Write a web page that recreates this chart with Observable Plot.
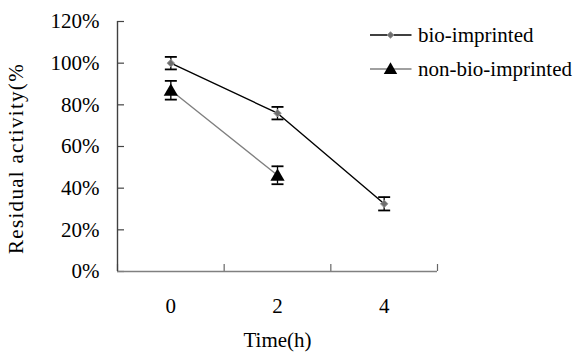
<!DOCTYPE html>
<html>
<head>
<meta charset="utf-8">
<script src="https://cdn.jsdelivr.net/npm/d3@7"></script>
<script src="https://cdn.jsdelivr.net/npm/@observablehq/plot@0.6"></script>
<style>
  html, body { margin: 0; padding: 0; background: #fff; }
  #wrap { position: relative; width: 576px; height: 352px; overflow: hidden; }
  #legend { position: absolute; left: 365px; top: 18px; }
  svg text { font-family: "Liberation Serif", "Times New Roman", serif; }
</style>
</head>
<body>
<div id="wrap"><div id="chart"></div><div id="legend"></div></div>
<script>
const times = [0, 2, 4];
const bioValues = [100, 76, 32.5];
const bioErrors = [3, 3, 3.2];
const nonBioTimes = [0, 2];
const nonBioValues = [87, 46.2];
const nonBioErrors = [4.5, 4.3];
const yTicks = [0, 20, 40, 60, 80, 100, 120];
const xTicks = [0, 2, 4];
const xBoundaryTicks = [-1, 1, 3, 5];
const seriesNames = ["bio-imprinted", "non-bio-imprinted"];

const bio = times.map((t, i) => ({t, v: bioValues[i], e: bioErrors[i]}));
const nonBio = nonBioTimes.map((t, i) => ({t, v: nonBioValues[i], e: nonBioErrors[i]}));

const cap = {draw(ctx) { ctx.moveTo(-6, 0); ctx.lineTo(6, 0); }};
const font = "'Liberation Serif', 'Times New Roman', serif";

const errMarks = (data) => [
  Plot.ruleX(data, {x: "t", y1: d => d.v - d.e, y2: d => d.v + d.e, stroke: "#000", strokeWidth: 1.3}),
  Plot.dot(data, {x: "t", y: d => d.v + d.e, symbol: cap, stroke: "#000", strokeWidth: 1.8, r: 3}),
  Plot.dot(data, {x: "t", y: d => d.v - d.e, symbol: cap, stroke: "#000", strokeWidth: 1.8, r: 3})
];

const chart = Plot.plot({
  width: 576,
  height: 352,
  marginLeft: 117,
  marginRight: 139,
  marginTop: 21,
  marginBottom: 81,
  style: {fontFamily: font, fontSize: "21px", color: "#000", background: "#fff"},
  x: {domain: [-1, 5]},
  y: {domain: [0, 120]},
  marks: [
    Plot.axisY({ticks: yTicks, tickSize: 0, tickPadding: 18, tickFormat: d => d + "%", fontSize: 21,
      label: "Residual activity(%", labelAnchor: "center", labelOffset: 109, labelArrow: "none"}),
    Plot.axisY({ticks: yTicks, tickSize: -7, text: null, label: null, stroke: "#444", strokeWidth: 1.2}),
    Plot.axisX({ticks: xTicks, tickSize: 0, tickPadding: 27, tickFormat: d => String(d), fontSize: 21,
      label: "Time(h)", labelAnchor: "center", labelOffset: 75, labelArrow: "none"}),
    Plot.axisX({ticks: xBoundaryTicks, tickSize: -7, text: null, label: null, stroke: "#666", strokeWidth: 1.2}),
    Plot.ruleY([0], {stroke: "#808080", strokeWidth: 1.6}),
    Plot.ruleX([-1], {stroke: "#404040", strokeWidth: 1.4}),
    Plot.line(nonBio, {x: "t", y: "v", stroke: "#808080", strokeWidth: 1.4}),
    Plot.line(bio, {x: "t", y: "v", stroke: "#000", strokeWidth: 1.4}),
    ...errMarks(bio),
    ...errMarks(nonBio),
    Plot.dot(bio, {x: "t", y: "v", symbol: "diamond2", r: 3.4, fill: "#6e6e6e", stroke: "#9a9a9a", strokeWidth: 1}),
    Plot.dot(nonBio, {x: "t", y: "v", symbol: "triangle", r: 5.3, fill: "#000", dy: 1.5})
  ]
});
document.getElementById("chart").appendChild(chart);
const ylab = chart.querySelector('[aria-label="y-axis label"]');
if (ylab) {
  ylab.setAttribute("letter-spacing", "1.3");
  ylab.setAttribute("transform", (ylab.getAttribute("transform") || "") + " translate(0,12)");
}

// legend
const lg = d3.select("#legend").append("svg").attr("width", 211).attr("height", 70)
  .style("font-family", font).style("font-size", "21px");
const items = [
  {name: seriesNames[0], line: "#000", sym: d3.symbolDiamond2, size: 3.0 * 3.0 * Math.PI, fill: "#6e6e6e", stroke: "#9a9a9a"},
  {name: seriesNames[1], line: "#808080", sym: d3.symbolTriangle, size: 5.0 * 5.0 * Math.PI, fill: "#000", stroke: "none"}
];
items.forEach((it, i) => {
  const y = 17 + i * 34;
  const g = lg.append("g").attr("transform", `translate(0,${y})`);
  g.append("line").attr("x1", 5).attr("x2", 46.5).attr("y1", 0).attr("y2", 0)
    .attr("stroke", it.line).attr("stroke-width", 1.4);
  g.append("path").attr("d", d3.symbol(it.sym, it.size)()).attr("transform", `translate(25.5,${i ? 1 : 0})`)
    .attr("fill", it.fill).attr("stroke", it.stroke);
  g.append("text").attr("x", 53).attr("y", 0).attr("dy", "0.33em").text(it.name);
});
</script>
</body>
</html>
